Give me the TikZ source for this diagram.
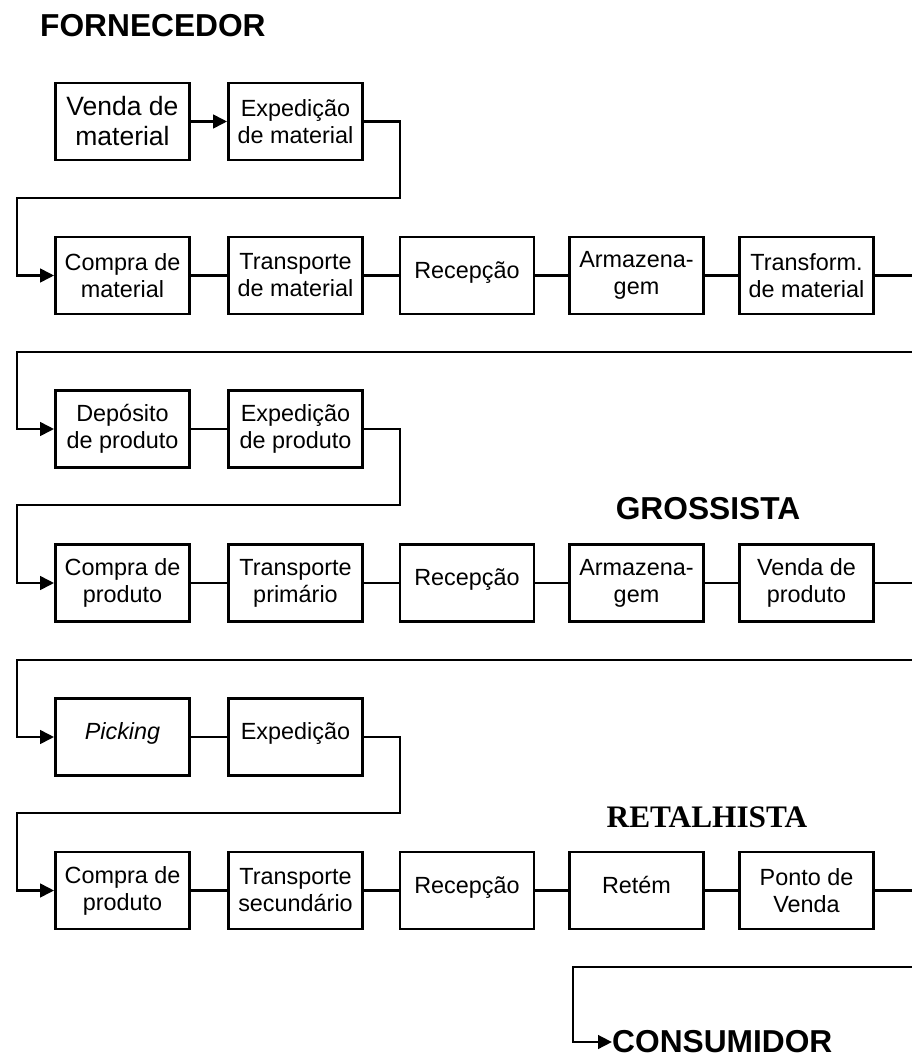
\documentclass[tikz,border=0pt]{standalone}
\usepackage{fontspec}
\setmainfont{Liberation Sans}
\newfontfamily\serifttl{Liberation Serif}
\usetikzlibrary{arrows.meta}
\tikzset{
  stepbox/.style={draw, line width=2.8pt, minimum width=134pt, minimum height=77pt,
    inner sep=0pt, align=center, font=\fontsize{23.4}{27}\selectfont},
  oneline/.style={text height=17pt, text depth=12pt},
  conn/.style={line width=2.8pt},
  arr/.style={conn, -{Triangle[length=14pt,width=13.5pt]}},
  ttl/.style={inner sep=0pt, font=\fontsize{31.7}{36}\selectfont\bfseries}
}
\begin{document}
\begin{tikzpicture}[x=1pt,y=-1pt]
\useasboundingbox (0,0) rectangle (912,1060);
% titles
\node[ttl, anchor=base west] (forn) at (40,36) {FORNECEDOR};
\node[ttl, anchor=base] (gros) at (708,519) {GROSSISTA};
\node[ttl, anchor=base, font=\fontsize{31.3}{36}\selectfont\serifttl\bfseries] (reta) at (707,827) {RETALHISTA};
% row 1
\node[stepbox, font=\fontsize{26.5}{30}\selectfont] (v1) at (122.5,121.5) {Venda de\\material};
\node[stepbox] (e1) at (295.5,121.5) {Expedição\\de material};
% row 2
\node[stepbox] (c2) at (122.5,275.5) {Compra de\\material};
\node[stepbox] (t2) at (295.5,275.5) {Transporte\\de material};
\node[stepbox, oneline] (r2) at (467,275.5) {Recepção};
\node[stepbox] (a2) at (636.5,275.5) {Armazena-\\gem};
\node[stepbox] (f2) at (806.5,275.5) {Transform.\\de material};
% row 3
\node[stepbox] (d3) at (122.5,429) {Depósito\\de produto};
\node[stepbox] (e3) at (295.5,429) {Expedição\\de produto};
% row 4
\node[stepbox] (c4) at (122.5,583) {Compra de\\produto};
\node[stepbox] (t4) at (295.5,583) {Transporte\\primário};
\node[stepbox, oneline] (r4) at (467,583) {Recepção};
\node[stepbox] (a4) at (636.5,583) {Armazena-\\gem};
\node[stepbox] (v4) at (806.5,583) {Venda de\\produto};
% row 5
\node[stepbox, oneline] (p5) at (122.5,737) {\itshape Picking};
\node[stepbox, oneline] (e5) at (295.5,737) {Expedição};
% row 6
\node[stepbox] (c6) at (122.5,890.5) {Compra de\\produto};
\node[stepbox] (t6) at (295.5,890.5) {Transporte\\secundário};
\node[stepbox, oneline] (r6) at (467,890.5) {Recepção};
\node[stepbox, oneline] (k6) at (636.5,890.5) {Retém};
\node[stepbox] (pv6) at (806.5,890.5) {Ponto de\\Venda};
% consumer
\node[ttl, anchor=west] (cons) at (612,1042) {CONSUMIDOR};

% routing coordinates
\coordinate (R1) at (400,198);   \coordinate (L1) at (17,198);
\coordinate (E2) at (912,275.5);
\coordinate (S3) at (912,352);   \coordinate (L3) at (17,352);
\coordinate (R3) at (400,505);   \coordinate (L4) at (17,505);
\coordinate (E4) at (912,583);
\coordinate (S5) at (912,660);   \coordinate (L5) at (17,660);
\coordinate (R5) at (400,813);   \coordinate (L6) at (17,813);
\coordinate (E6) at (912,890.5);
\coordinate (S7) at (912,967);   \coordinate (L7) at (573,967);

% connectors row 1
\draw[arr] (v1.east) -- (e1.west);
\draw[arr] (e1.east) -| (R1) -- (L1) |- (c2.west);
% row 2
\draw[conn] (c2.east) -- (t2.west);
\draw[conn] (t2.east) -- (r2.west);
\draw[conn] (r2.east) -- (a2.west);
\draw[conn] (a2.east) -- (f2.west);
\draw[conn] (f2.east) -- (E2);
% row 3
\draw[arr] (S3) -- (L3) |- (d3.west);
\draw[conn] (d3.east) -- (e3.west);
\draw[arr] (e3.east) -| (R3) -- (L4) |- (c4.west);
% row 4
\draw[conn] (c4.east) -- (t4.west);
\draw[conn] (t4.east) -- (r4.west);
\draw[conn] (r4.east) -- (a4.west);
\draw[conn] (a4.east) -- (v4.west);
\draw[conn] (v4.east) -- (E4);
% row 5
\draw[arr] (S5) -- (L5) |- (p5.west);
\draw[conn] (p5.east) -- (e5.west);
\draw[arr] (e5.east) -| (R5) -- (L6) |- (c6.west);
% row 6
\draw[conn] (c6.east) -- (t6.west);
\draw[conn] (t6.east) -- (r6.west);
\draw[conn] (r6.east) -- (k6.west);
\draw[conn] (k6.east) -- (pv6.west);
\draw[conn] (pv6.east) -- (E6);
% to consumer
\draw[arr] (S7) -- (L7) |- (cons.west);
\end{tikzpicture}
\end{document}
